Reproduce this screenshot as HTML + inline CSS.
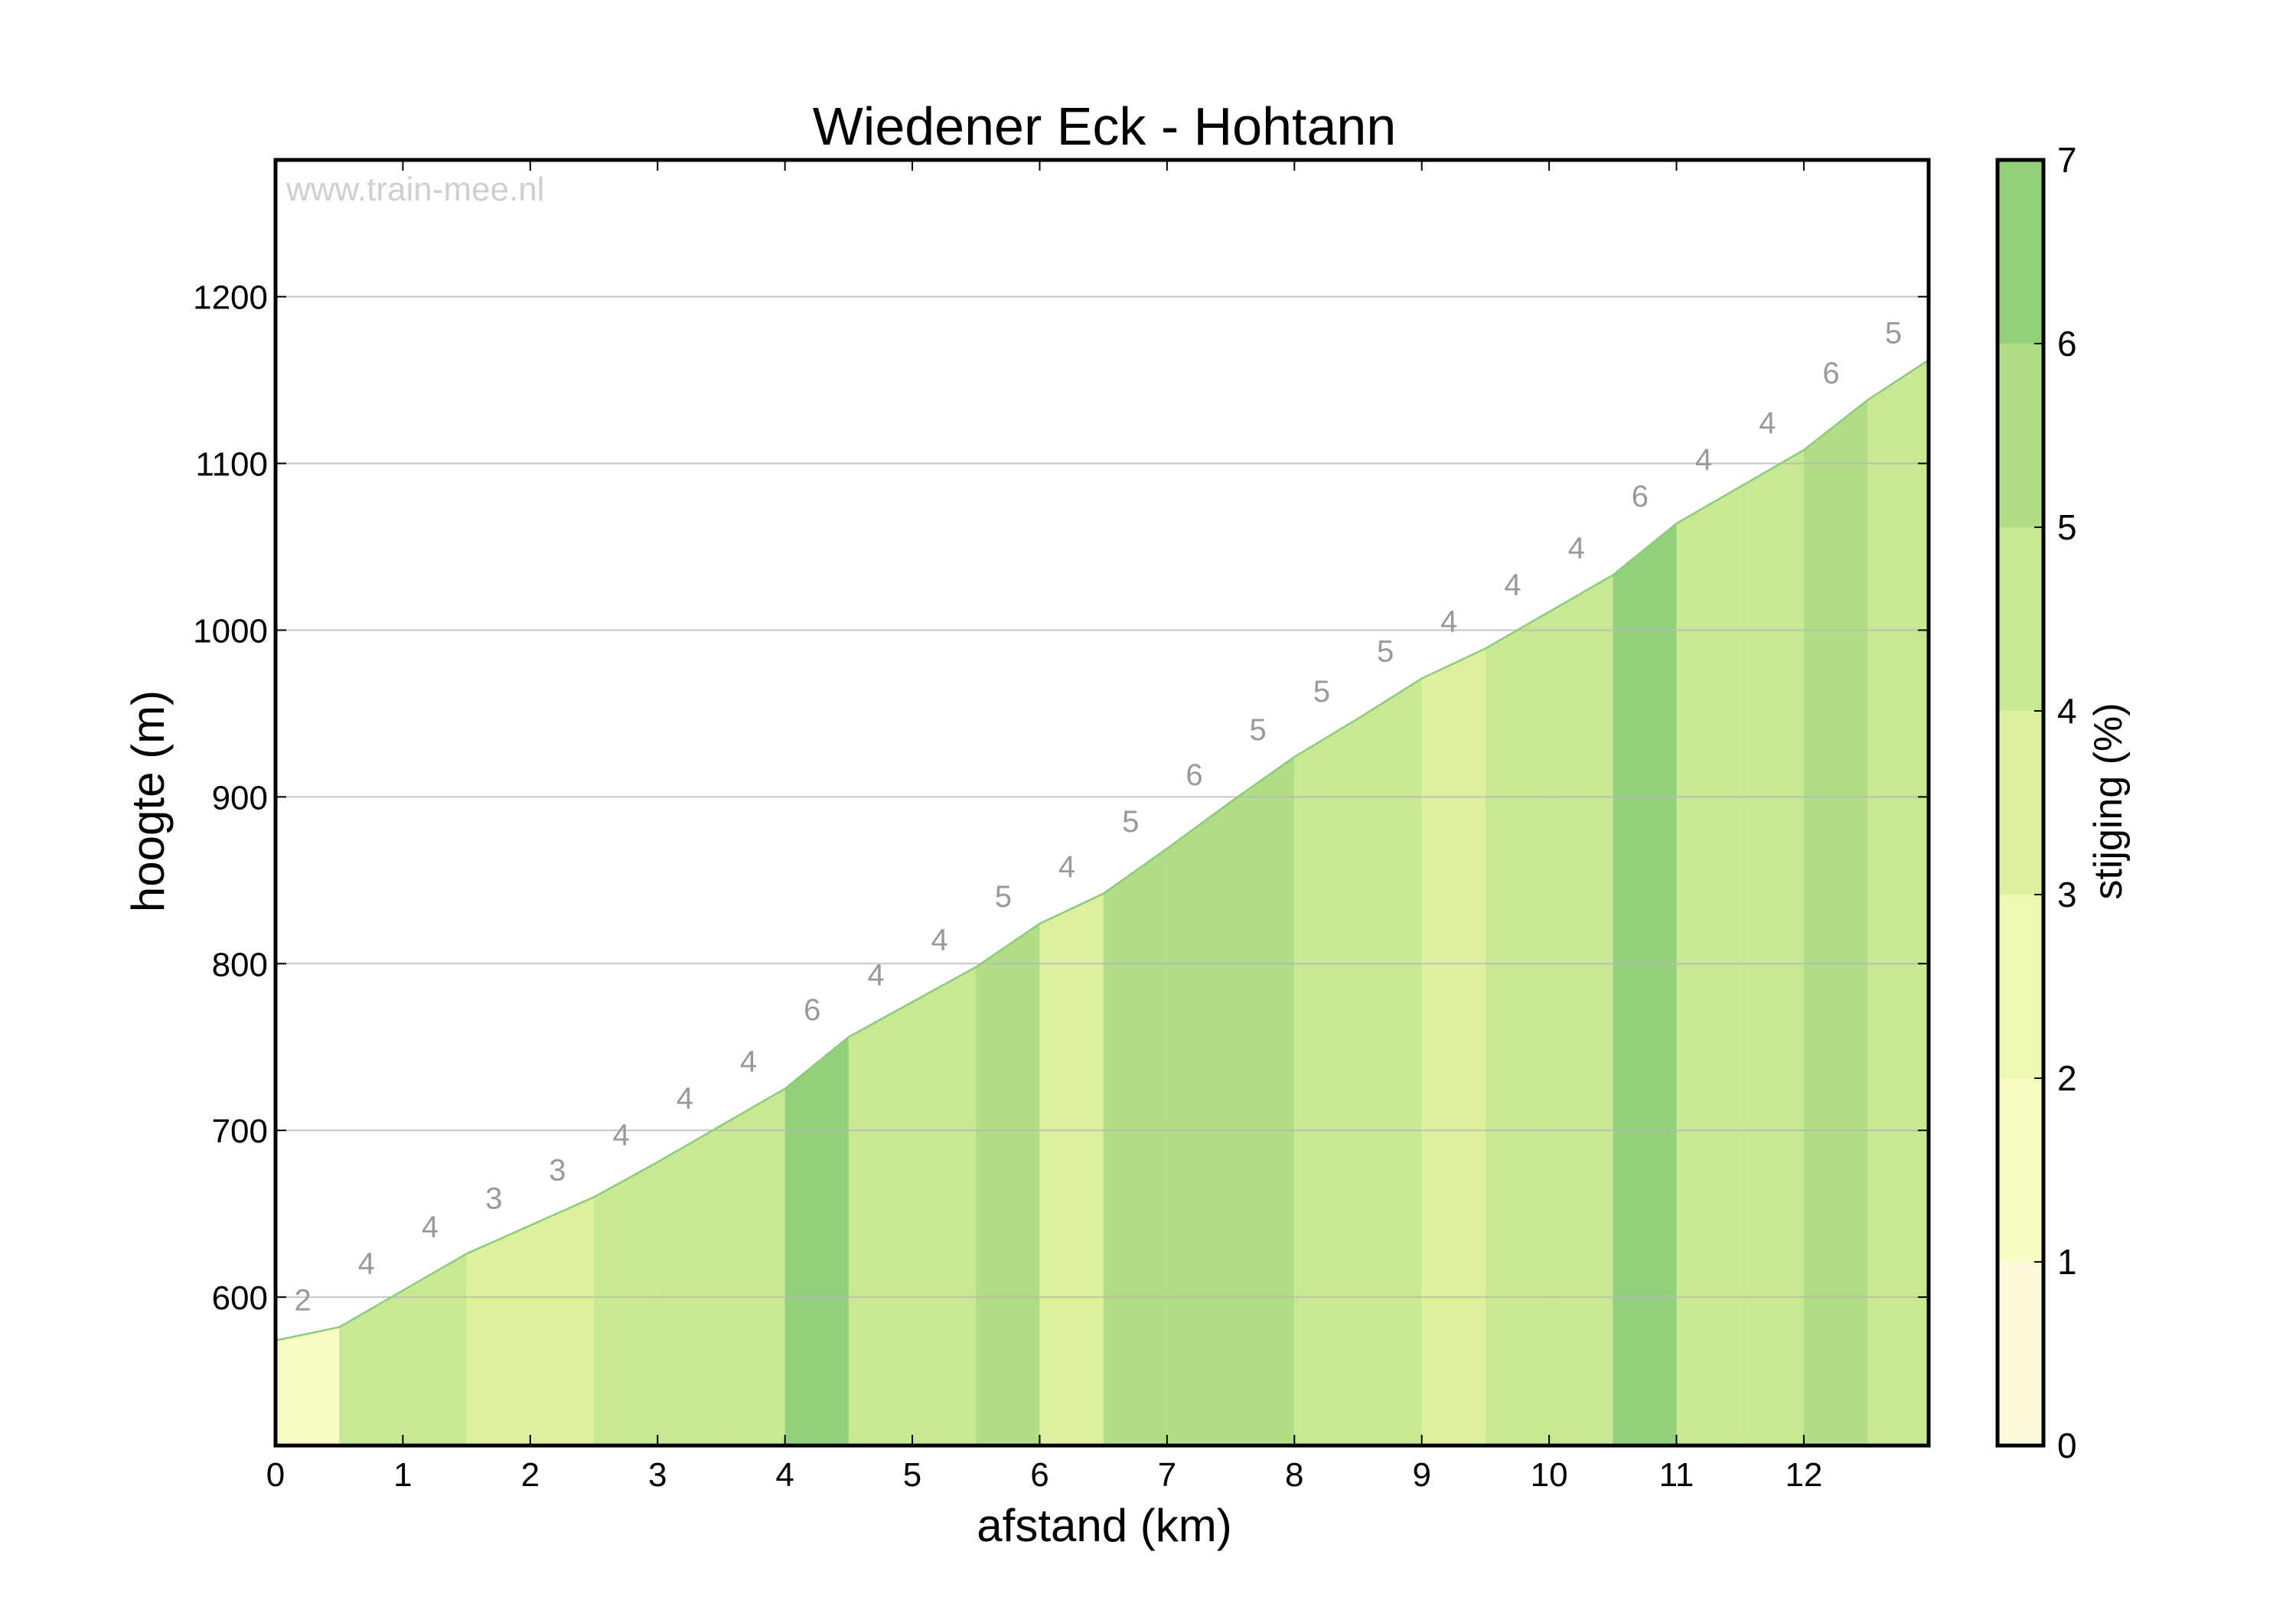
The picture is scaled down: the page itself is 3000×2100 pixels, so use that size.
<!DOCTYPE html>
<html><head><meta charset="utf-8"><style>
html,body{margin:0;padding:0;background:#fff}
svg{display:block}
text{font-family:"Liberation Sans",sans-serif}
</style></head><body>
<svg id="chart" width="3000" height="2100" viewBox="0 0 3000 2100" xmlns="http://www.w3.org/2000/svg">
<text x="1443" y="189" font-size="70" text-anchor="middle" fill="#000">Wiedener Eck - Hohtann</text>
<g id="plot"></g>
<text x="1443" y="2014" font-size="60" text-anchor="middle">afstand (km)</text>
<text transform="translate(214,1047) rotate(-90)" font-size="60" text-anchor="middle">hoogte (m)</text>
<text transform="translate(2772,1047) rotate(-90)" font-size="52" text-anchor="middle">stijging (%)</text>
</svg>
<script>
const distances = [0,0.5,1,1.5,2,2.5,3,3.5,4,4.5,5,5.5,6,6.5,7,7.5,8,8.5,9,9.5,10,10.5,11,11.5,12,12.5,12.98];
const elevations = [574,582,604,626,643,660,681,703,725,756,777,798,824,842,869,897,924,947,971,989,1011,1033,1064,1086,1108,1138,1162];
const grades = [1.6,4.4,4.4,3.4,3.4,4.3,4.3,4.3,6.2,4.2,4.2,5.2,3.6,5.4,5.6,5.4,4.6,4.6,3.6,4.3,4.3,6.1,4.4,4.4,5.6,4.8];
const xTicks = [0,1,2,3,4,5,6,7,8,9,10,11,12];
const yTicks = [600,700,800,900,1000,1100,1200];
const cbTicks = [0,1,2,3,4,5,6,7];
const binColors = ["#fdfbdc","#f8fcc0","#eef8b0","#ddf09e","#c8e894","#b0dd86","#92d07c"];

const NS="http://www.w3.org/2000/svg";
const svg=document.getElementById('chart');
const plot=document.getElementById('plot');
const L=360,R=2520,T=209,B=1889;
const xMin=0,xMax=12.98,yMin=511,yMax=1282;
const xs=v=>L+(v-xMin)/(xMax-xMin)*(R-L);
const ys=v=>B-(v-yMin)/(yMax-yMin)*(B-T);
const CL=2610,CR=2670;
const cs=v=>B-v/7*(B-T);
function mk(tag,attrs,parent){const e=document.createElementNS(NS,tag);for(const k in attrs)e.setAttribute(k,attrs[k]);(parent||svg).appendChild(e);return e;}
const colorFor=g=>binColors[Math.max(0,Math.min(6,Math.floor(g)))];

for(let i=0;i<grades.length;i++){
  const x0=xs(distances[i]),x1=xs(distances[i+1]);
  const p=mk('polygon',{points:`${x0},${B} ${x0},${ys(elevations[i])} ${x1},${ys(elevations[i+1])} ${x1},${B}`,fill:colorFor(grades[i])},plot);
  
  
}
yTicks.forEach(t=>{
  const g=mk('line',{x1:L,x2:R,y1:ys(t),y2:ys(t),stroke:'#b8b8b8','stroke-width':2,opacity:0.8},plot);
  
  
});
const pl=mk('polyline',{points:distances.map((d,i)=>xs(d)+','+ys(elevations[i])).join(' '),fill:'none',stroke:'#8ccc78','stroke-width':2.5},plot);


for(let i=0;i<grades.length;i++){
  const xm=xs((distances[i]+distances[i+1])/2);
  const top=Math.max(elevations[i],elevations[i+1]);
  const t=mk('text',{x:xm-6,y:ys(top)-22,'font-size':40,fill:'#999','text-anchor':'middle'},plot);
  t.textContent=Math.round(grades[i]);
  
  
}
const wm=mk('text',{x:374,y:262,'font-size':44,fill:'#cfcfcf'});
wm.textContent='www.train-mee.nl';


const fr=mk('rect',{x:L,y:T,width:R-L,height:B-T,fill:'none',stroke:'#000','stroke-width':5});


xTicks.forEach(t=>{
  const x=xs(t);
  mk('line',{x1:x,x2:x,y1:B,y2:B-14,stroke:'#000','stroke-width':2});
  mk('line',{x1:x,x2:x,y1:T,y2:T+14,stroke:'#000','stroke-width':2});
  const l=mk('text',{x:x,y:1942,'font-size':44,'text-anchor':'middle'});
  l.textContent=t;
  
  
});
yTicks.forEach(t=>{
  const y=ys(t);
  mk('line',{x1:L,x2:L+14,y1:y,y2:y,stroke:'#000','stroke-width':2});
  mk('line',{x1:R,x2:R-14,y1:y,y2:y,stroke:'#000','stroke-width':2});
  const l=mk('text',{x:350,y:y+16,'font-size':44,'text-anchor':'end'});
  l.textContent=t;
  
  
});
for(let i=0;i<7;i++){
  const r=mk('rect',{x:CL,y:cs(i+1),width:CR-CL,height:cs(i)-cs(i+1),fill:binColors[i]});
  
  
}
const cf=mk('rect',{x:CL,y:T,width:CR-CL,height:B-T,fill:'none',stroke:'#000','stroke-width':5});


cbTicks.forEach(t=>{
  const y=cs(t);
  mk('line',{x1:CR,x2:CR-12,y1:y,y2:y,stroke:'#000','stroke-width':2});
  const l=mk('text',{x:2688,y:y+16,'font-size':46});
  l.textContent=t;
  
  
});
</script>
</body></html>
